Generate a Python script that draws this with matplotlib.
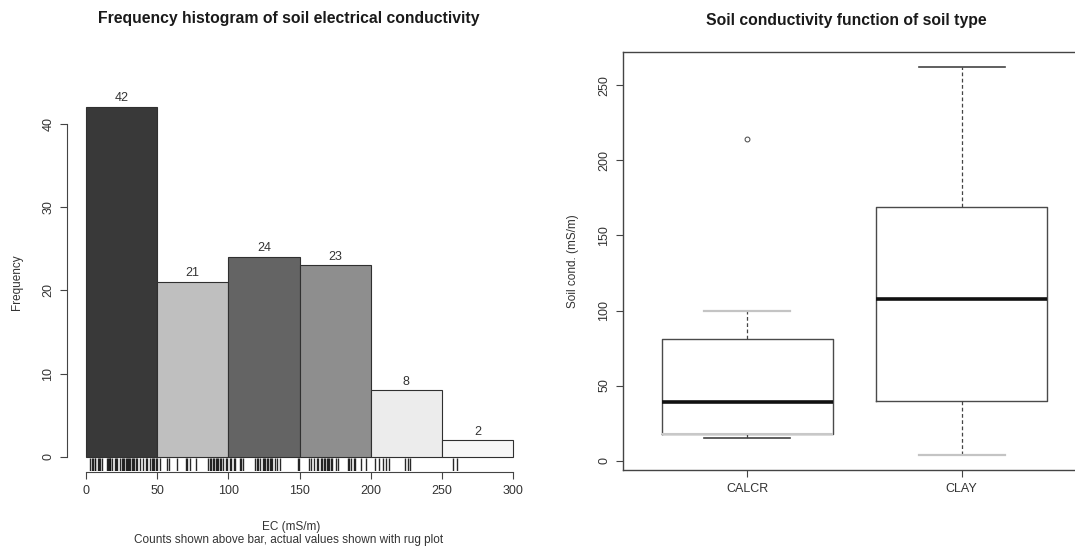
import numpy as np
import matplotlib
matplotlib.use("Agg")
import matplotlib.pyplot as plt

plt.rcParams['font.family'] = ['Liberation Sans', 'DejaVu Sans']

# Histogram of soil EC: bin edges, counts and bar fills
bin_edges = [0, 50, 100, 150, 200, 250, 300]
bin_counts = [42, 21, 24, 23, 8, 2]
bar_colors = ['#393939', '#bfbfbf', '#646464', '#8e8e8e', '#ececec', '#f7f7f7']

# Individual EC readings (mS/m) shown as a rug under the bars
ec_values = [
    3, 4, 5, 6, 6.5, 8.5, 9, 10, 11, 15, 15.5, 16, 16.5, 17, 18, 20, 21, 22,
    24, 25, 26, 27, 28, 29, 29.5, 30, 31, 32, 33, 34, 35, 36, 38, 40, 42, 43,
    45, 46, 47, 48, 49, 49.5,
    52, 57, 58, 64, 70, 71, 73, 77, 86, 87, 88, 89, 90, 91, 92, 93, 94, 95,
    96, 98, 99,
    101, 102, 104, 105, 108, 109, 110, 119, 120, 121, 122, 124, 125, 126,
    127, 128, 129, 130, 131, 133, 134, 136, 149, 149.5,
    157, 158, 160, 162, 163, 165, 166, 167, 168, 169, 170, 171, 172, 173,
    176, 177, 184, 185, 186, 188, 189, 193, 197,
    203, 206, 209, 211, 213, 224, 226, 228,
    258, 261,
]

# Box plot summaries of conductivity by soil type
soil_types = ['CALCR', 'CLAY']
box_q1 = [18, 40]
box_median = [39, 108]
box_q3 = [81, 169]
whisker_low = [15, 4]
whisker_high = [100, 262]
outliers = [[214], []]

W, H = 1075, 547
fig = plt.figure(figsize=(W / 100, H / 100), dpi=100)


def px_rect(x0, y0, x1, y1):
    # axes rectangle from pixel corners (origin at top-left)
    return [x0 / W, 1 - y1 / H, (x1 - x0) / W, (y1 - y0) / H]


axis_col = '#444444'
text_col = '#333333'
title_col = '#1a1a1a'

# ---- left: histogram with counts and rug ----
ax1 = fig.add_axes(px_rect(69, 93, 530, 471))
lefts = bin_edges[:-1]
widths = np.diff(bin_edges)
ax1.bar(lefts, bin_counts, width=widths, align='edge', color=bar_colors,
        edgecolor='#303030', linewidth=0.8, zorder=2)
for x, w, c in zip(lefts, widths, bin_counts):
    ax1.annotate(str(c), (x + w / 2, c), xytext=(0, 2), textcoords='offset points',
                 ha='center', va='bottom', fontsize=9, color=text_col)

ax1.vlines(ec_values, 0, 0.034, transform=ax1.get_xaxis_transform(),
           color='#111111', linewidth=1.0, alpha=0.9)

ax1.set_xlim(-12, 312)
ax1.set_ylim(-1.68, 43.68)
for s in ['top', 'right']:
    ax1.spines[s].set_visible(False)
ax1.spines['left'].set_bounds(0, 40)
ax1.spines['bottom'].set_bounds(0, 300)
ax1.spines['left'].set_position(('outward', 1.5))
ax1.spines['bottom'].set_position(('outward', 1))
for s in ['left', 'bottom']:
    ax1.spines[s].set_color(axis_col)
    ax1.spines[s].set_linewidth(0.8)
ax1.set_xticks(range(0, 301, 50))
ax1.set_yticks(range(0, 41, 10))
ax1.tick_params(length=5, width=0.8, color=axis_col, labelcolor=text_col,
                labelsize=9, pad=4)
for lab in ax1.get_yticklabels():
    lab.set_rotation(90)
    lab.set_va('center')

ax1.set_ylabel('Frequency', fontsize=8.5, color=text_col, labelpad=14)
fig.text(289 / W, 1 - 18 / H, 'Frequency histogram of soil electrical conductivity',
         ha='center', va='center', fontsize=11.3, fontweight='bold', color=title_col)
fig.text(291 / W, 1 - 527 / H, 'EC (mS/m)', ha='center', va='center',
         fontsize=8.5, color=text_col)
fig.text(289 / W, 1 - 540 / H, 'Counts shown above bar, actual values shown with rug plot',
         ha='center', va='center', fontsize=8.5, color=text_col)

# ---- right: box plot by soil type ----
ax2 = fig.add_axes(px_rect(623, 52, 1086, 470))
stats = []
for i, name in enumerate(soil_types):
    stats.append(dict(label=name, med=box_median[i], q1=box_q1[i], q3=box_q3[i],
                      whislo=whisker_low[i], whishi=whisker_high[i],
                      fliers=outliers[i]))
art = ax2.bxp(stats, positions=[1, 2], widths=0.8,
              boxprops=dict(color='#4a4a4a', linewidth=1.0),
              medianprops=dict(color='#111111', linewidth=2.6),
              whiskerprops=dict(color='#444444', linewidth=0.9, linestyle=(0, (3, 2))),
              capprops=dict(color='#444444', linewidth=1.2),
              flierprops=dict(marker='o', markersize=3.5, markerfacecolor='none',
                              markeredgecolor='#444444', markeredgewidth=0.7),
              capwidths=0.4)
# lighter caps / edges as in the printed figure
art['caps'][1].set_color('#c4c4c4')
art['caps'][2].set_color('#c4c4c4')
art['caps'][1].set_linewidth(1.6)
art['caps'][2].set_linewidth(1.6)
ax2.hlines(box_q1[0], 0.6, 1.4, color='#c8c8c8', linewidth=1.5, zorder=3)

ax2.set_xlim(0.42, 2.58)
ax2.set_ylim(-6.3, 272.3)
for s in ax2.spines.values():
    s.set_color(axis_col)
    s.set_linewidth(1.0)
ax2.set_yticks(range(0, 251, 50))
ax2.tick_params(length=5, width=0.8, color=axis_col, labelcolor=text_col,
                labelsize=9, pad=4)
for lab in ax2.get_yticklabels():
    lab.set_rotation(90)
    lab.set_va('center')
fig.text(846 / W, 1 - 20 / H, 'Soil conductivity function of soil type',
         ha='center', va='center', fontsize=11.3, fontweight='bold', color=title_col)
ax2.set_ylabel('Soil cond. (mS/m)', fontsize=8.5, color=text_col, labelpad=14)

fig.savefig('out.png', dpi=100, facecolor='white')
